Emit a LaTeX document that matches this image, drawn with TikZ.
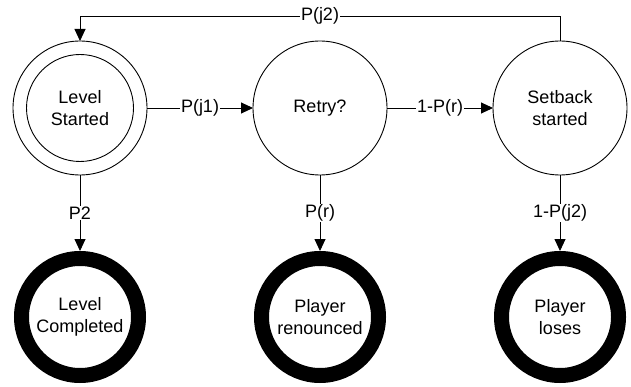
\documentclass[tikz,border=0pt]{standalone}
\usepackage{fontspec}
\setmainfont{Liberation Sans}
\usetikzlibrary{arrows.meta}
\begin{document}
\begin{tikzpicture}[x=1pt,y=-1pt,
  every node/.style={font=\fontsize{18}{21.6}\selectfont},
  state/.style={circle,draw,line width=0.9pt,minimum size=134pt,inner sep=0pt,outer sep=0pt,align=center},
  final/.style={circle,draw,line width=15pt,minimum size=117pt,inner sep=0pt,outer sep=7.5pt,align=center},
  arr/.style={line width=0.9pt,-{Triangle[length=12pt,width=11pt]}},
  lbl/.style={fill=white,inner sep=1pt}]
\useasboundingbox (0,0) rectangle (631,387);
\node[state] (ls) at (80,108) {Level\\Started};
\draw[line width=0.9pt] (ls.center) circle (53.5);
\node[state] (re) at (320,108) {Retry?};
\node[state] (sb) at (560,108) {Setback\\started};
\node[final] (lc) at (80,317) {Level\\Completed};
\node[final] (pr) at (320,317) {Player\\renounced};
\node[final] (pl) at (560,317) {Player\\loses};
\coordinate (tr) at (560,16);
\coordinate (tl) at (80,16);
\draw[arr] (ls.east) -- node[lbl]{P(j1)} (re.west);
\draw[arr] (re.east) -- node[lbl]{1-P(r)} (sb.west);
\draw[arr] (ls.south) -- node[lbl]{P2} (lc.north);
\draw[arr] (re.south) -- node[lbl]{P(r)} (pr.north);
\draw[arr] (sb.south) -- node[lbl]{1-P(j2)} (pl.north);
\draw[arr] (sb.north) -- (tr) -- node[lbl]{P(j2)} (tl) -- (ls.north);
\end{tikzpicture}
\end{document}
